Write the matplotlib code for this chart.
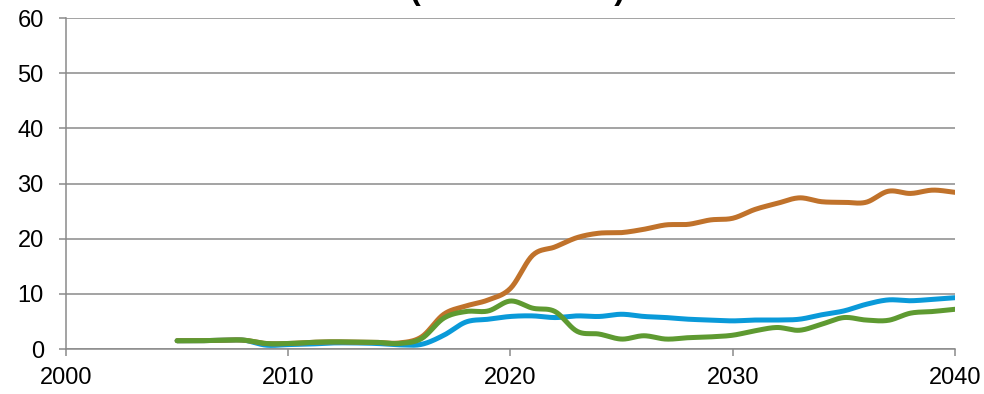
import numpy as np
import matplotlib
matplotlib.use("Agg")
import matplotlib.pyplot as plt

plt.rcParams["font.family"] = ["Liberation Sans", "DejaVu Sans"]

years = list(range(2005, 2041))

orange_series = [1.5, 1.5, 1.6, 1.6, 1.0, 1.0, 1.2, 1.3, 1.25, 1.2, 1.1,
                 2.2, 6.3, 7.8, 8.9, 11.0, 17.0, 18.5, 20.2, 21.0, 21.1,
                 21.7, 22.5, 22.6, 23.4, 23.7, 25.3, 26.4, 27.4, 26.7, 26.6,
                 26.6, 28.6, 28.2, 28.8, 28.4]
blue_series = [1.5, 1.5, 1.6, 1.6, 0.7, 0.8, 0.9, 1.1, 1.1, 1.0, 0.75,
               0.85, 2.5, 4.9, 5.4, 5.9, 6.0, 5.7, 6.0, 5.9, 6.3,
               5.9, 5.7, 5.4, 5.25, 5.1, 5.25, 5.25, 5.4, 6.2, 6.9,
               8.1, 8.9, 8.75, 9.0, 9.3]
green_series = [1.5, 1.5, 1.6, 1.6, 1.0, 1.0, 1.2, 1.3, 1.25, 1.2, 1.0,
                1.9, 5.6, 6.8, 6.9, 8.7, 7.4, 6.8, 3.2, 2.7, 1.8,
                2.4, 1.8, 2.05, 2.2, 2.5, 3.3, 3.9, 3.4, 4.5, 5.7,
                5.25, 5.2, 6.5, 6.8, 7.2]

x_ticks = [2000, 2010, 2020, 2030, 2040]
y_ticks = [0, 10, 20, 30, 40, 50, 60]

title_text = "(GW installed)"


def smooth(xs, ys, steps=20):
    """Catmull-Rom interpolation through every data point."""
    xs = np.asarray(xs, float)
    ys = np.asarray(ys, float)
    px = np.concatenate([[2 * xs[0] - xs[1]], xs, [2 * xs[-1] - xs[-2]]])
    py = np.concatenate([[2 * ys[0] - ys[1]], ys, [2 * ys[-1] - ys[-2]]])
    out_x, out_y = [], []
    t = np.linspace(0, 1, steps, endpoint=False)
    for i in range(1, len(px) - 2):
        for p, out in ((px, out_x), (py, out_y)):
            p0, p1, p2, p3 = p[i - 1], p[i], p[i + 1], p[i + 2]
            out.extend(0.5 * ((2 * p1) + (-p0 + p2) * t
                              + (2 * p0 - 5 * p1 + 4 * p2 - p3) * t ** 2
                              + (-p0 + 3 * p1 - 3 * p2 + p3) * t ** 3))
    out_x.append(xs[-1])
    out_y.append(ys[-1])
    return np.array(out_x), np.array(out_y)


fig = plt.figure(figsize=(9.84, 3.94), dpi=100)
ax = fig.add_axes([0.0671, 0.1142, 0.9034, 0.8401])

grid_color = "#8a8a8a"
for s, color in ((blue_series, "#0a9ad9"),
                 (orange_series, "#c0722b"),
                 (green_series, "#5e9a31")):
    sx, sy = smooth(years, s)
    ax.plot(sx, sy, color=color, lw=3.6, solid_capstyle="round",
            solid_joinstyle="round", zorder=3)

ax.set_xlim(2000, 2040)
ax.set_ylim(0, 60)
ax.set_xticks(x_ticks)
ax.set_yticks(y_ticks)
ax.yaxis.grid(True, color=grid_color, lw=1.1)
ax.set_axisbelow(True)
for side in ("top", "right"):
    ax.spines[side].set_visible(False)
for side in ("left", "bottom"):
    ax.spines[side].set_color(grid_color)
    ax.spines[side].set_linewidth(1.1)
ax.tick_params(axis="both", direction="out", length=5, width=1.1,
               color=grid_color, labelsize=17, labelcolor="black")
ax.tick_params(axis="y", pad=11)
ax.tick_params(axis="x", pad=8)

fig.text(0.526, 1.0015, title_text, ha="center", va="baseline",
         fontsize=23, fontweight="bold", fontstretch="condensed")

fig.savefig("out.png", dpi=100)
